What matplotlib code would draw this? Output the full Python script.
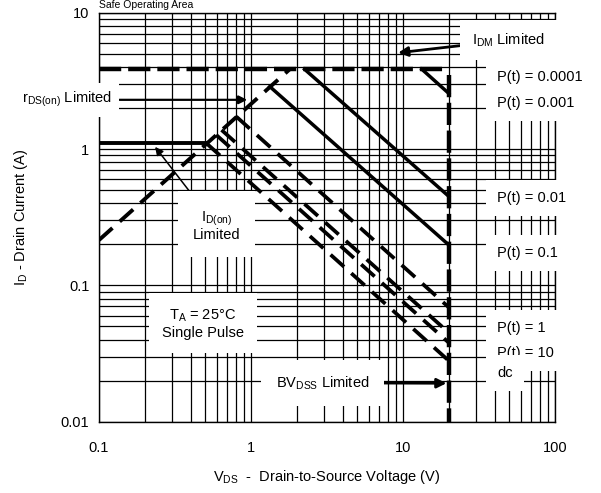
import matplotlib
matplotlib.use("Agg")
import matplotlib.pyplot as plt

plt.rcParams['font.family'] = ['Liberation Sans', 'DejaVu Sans']
plt.rcParams['mathtext.fontset'] = 'custom'
plt.rcParams['mathtext.rm'] = 'Liberation Sans'
plt.rcParams['mathtext.it'] = 'Liberation Sans'
plt.rcParams['lines.scale_dashes'] = False

# Limit lines (V, A)
idm_v = [0.1, 20]
idm_i = [3.85, 3.85]
bv_v = [20, 20]
bv_i = [3.5, 0.01]
rds_v = [0.1, 1.8]
rds_i = [0.215, 3.85]
idon_v = [0.1, 0.51]
idon_i = [1.1, 1.1]

# Single pulse lines: start on a limit line, end on BV (20 V)
pulse_names = ['0.0001', '0.001', '0.01', '0.1', '1', '10', 'dc']
pulse_v_start = [13.3, 2.25, 1.33, 0.80, 0.64, 0.59, 0.51]
pulse_i_start = [3.85, 3.85, 2.87, 1.73, 1.38, 1.27, 1.1]
pulse_v_end = [20, 20, 20, 20, 20, 20, 20]
pulse_i_end = [2.56, 0.45, 0.198, 0.069, 0.045, 0.038, 0.028]
pulse_solid = [True, True, True, False, False, False, False]

x_ticks = [0.1, 1, 10, 100]
x_tick_labels = ['0.1', '1', '10', '100']
y_ticks = [0.01, 0.1, 1, 10]
y_tick_labels = ['0.01', '0.1', '1', '10']

fig = plt.figure(figsize=(6.01, 4.93), dpi=100)
ax = fig.add_axes([99 / 601, 71.3 / 493, 456 / 601, 409 / 493])
ax.set_xscale('log')
ax.set_yscale('log')
ax.set_xlim(0.1, 100)
ax.set_ylim(0.01, 10)
ax.set_xticks(x_ticks)
ax.set_xticklabels(x_tick_labels)
ax.set_yticks(y_ticks)
ax.set_yticklabels(y_tick_labels)
ax.tick_params(which='both', length=0)
ax.tick_params(axis='x', which='minor', labelbottom=False)
ax.tick_params(axis='y', which='minor', labelleft=False)
ax.tick_params(axis='x', pad=14, labelsize=10.5)
ax.tick_params(axis='y', pad=7, labelsize=10.5)
ax.grid(True, which='both', color='black', lw=0.9)
ax.set_axisbelow(True)
for s in ax.spines.values():
    s.set_linewidth(1.0)

# limit lines
ax.plot(idm_v, idm_i, color='black', lw=3.2, dashes=(16, 5))
ax.plot(bv_v, bv_i, color='black', lw=3.2, dashes=(16, 4))
ax.plot(rds_v, rds_i, color='black', lw=2.8, dashes=(13, 7))
ax.plot(idon_v, idon_i, color='black', lw=2.8)

# pulse lines
for i in range(len(pulse_names)):
    xs = [pulse_v_start[i], pulse_v_end[i]]
    ys = [pulse_i_start[i], pulse_i_end[i]]
    if pulse_solid[i]:
        ax.plot(xs, ys, color='black', lw=2.5)
    else:
        ax.plot(xs, ys, color='black', lw=2.7, dashes=(13, 7))

fs = 10.5
white = dict(boxstyle='square,pad=0.75', fc='white', ec='none')

# labels on the right
label_y = [0.843, 0.779, 0.547, 0.413, 0.229, 0.168, 0.119]
for name, yy in zip(pulse_names, label_y):
    txt = 'dc' if name == 'dc' else 'P(t) = ' + name
    ax.text(0.873, yy, txt, transform=ax.transAxes, ha='left', va='center',
            fontsize=fs, bbox=white, zorder=3, clip_on=False)

ax.annotate(r'$\mathregular{I_{DM}}$ Limited', xy=(0.656, 0.902), xycoords='axes fraction',
            xytext=(0.818, 0.933), textcoords='axes fraction', ha='left', va='center',
            fontsize=fs, zorder=3,
            bbox=dict(boxstyle='square,pad=0.8', fc='white', ec='none'),
            arrowprops=dict(arrowstyle='-|>', color='black', lw=2, mutation_scale=14,
                            shrinkA=0, shrinkB=0))

ax.annotate(r'$\mathregular{r_{DS(on)}}$ Limited', xy=(0.325, 0.787), xycoords='axes fraction',
            xytext=(-0.169, 0.787), textcoords='axes fraction', ha='left', va='center',
            fontsize=fs, zorder=3,
            bbox=dict(boxstyle='square,pad=0.5', fc='white', ec='none'),
            arrowprops=dict(arrowstyle='-|>', color='black', lw=1.6, mutation_scale=12,
                            shrinkA=0, shrinkB=0))

ax.annotate('$\\mathregular{I_{D(on)}}$\nLimited', xy=(0.123, 0.672), xycoords='axes fraction',
            xytext=(0.257, 0.479), textcoords='axes fraction', ha='center', va='center',
            multialignment='center', linespacing=1.05, fontsize=fs, zorder=1.8,
            bbox=dict(boxstyle='square,pad=1.0', fc='white', ec='none'),
            arrowprops=dict(arrowstyle='-|>', color='black', lw=1.1, mutation_scale=12,
                            shrinkA=0, shrinkB=0))

ax.annotate(r'$\mathregular{BV_{DSS}}$ Limited', xy=(0.762, 0.094), xycoords='axes fraction',
            xytext=(0.388, 0.095), textcoords='axes fraction', ha='left', va='center',
            fontsize=fs, zorder=1.8,
            bbox=dict(boxstyle='square,pad=1.0', fc='white', ec='none'),
            arrowprops=dict(arrowstyle='-|>', color='black', lw=2, mutation_scale=14,
                            shrinkA=0, shrinkB=0))

ax.text(0.228, 0.239, '$\\mathregular{T_A}$ = 25°C\nSingle Pulse', transform=ax.transAxes,
        ha='center', va='center', multialignment='center', linespacing=1.15,
        fontsize=fs, zorder=1.8, bbox=dict(boxstyle='square,pad=0.9', fc='white', ec='none'))

ax.set_xlabel(r'$\mathregular{V_{DS}}$  -  Drain-to-Source Voltage (V)', fontsize=fs, labelpad=9)
ax.set_ylabel(r'$\mathregular{I_D}$ - Drain Current (A)', fontsize=fs, labelpad=22)

# title sits at the very top edge (cut off in the reference), kept small so it fits
fig.text(0.243, 0.999, 'Safe Operating Area', ha='center', va='top', fontsize=7.5)

fig.savefig('out.png', dpi=100)
